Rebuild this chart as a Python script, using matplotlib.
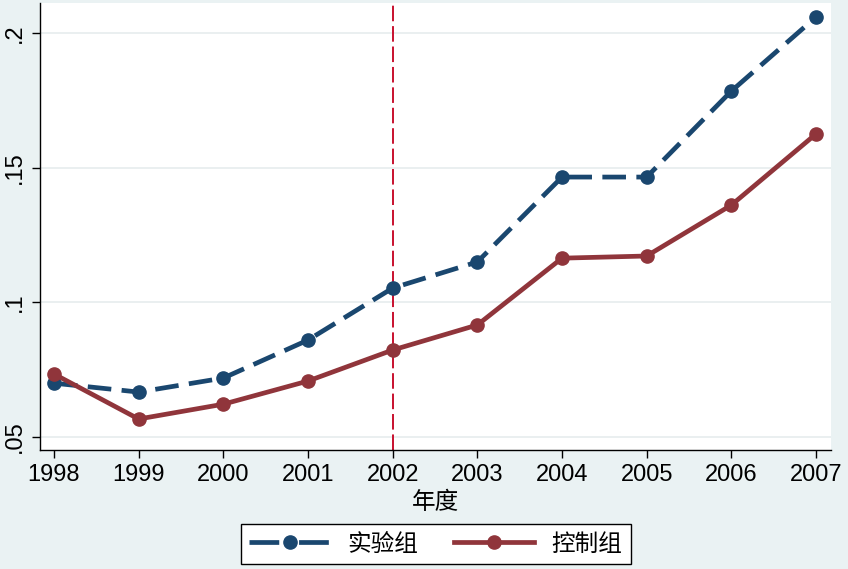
import matplotlib
matplotlib.use("Agg")
import matplotlib.pyplot as plt
from matplotlib.lines import Line2D

years = [1998, 1999, 2000, 2001, 2002, 2003, 2004, 2005, 2006, 2007]
treat = [0.0700, 0.0667, 0.0719, 0.0860, 0.1053, 0.1150, 0.1465, 0.1465, 0.1784, 0.2059]
control = [0.0734, 0.0567, 0.0622, 0.0708, 0.0823, 0.0916, 0.1164, 0.1172, 0.1361, 0.1625]
yticks = [0.05, 0.10, 0.15, 0.20]
ytick_labels = [".05", ".1", ".15", ".2"]
event_year = 2002

plt.rcParams["font.family"] = ["Liberation Sans", "Noto Sans CJK SC", "DejaVu Sans"]

bg = "#eaf2f3"
navy = "#1a476f"
maroon = "#90353b"
lw = 3.4
ms = 9.5

fig = plt.figure(figsize=(8.48, 5.69), dpi=100, facecolor=bg)
ax = fig.add_axes([40 / 848, 119 / 569, 791 / 848, 447 / 569])
ax.set_facecolor("white")

ax.plot(years, treat, color=navy, lw=lw, dashes=(5, 2.2), marker="o", ms=ms, zorder=3)
ax.plot(years, control, color=maroon, lw=lw, marker="o", ms=ms, zorder=3)
ax.axvline(event_year, color="#c8102e", lw=1.4, dashes=(8, 2.5), zorder=2)

ax.set_xlim(1997.835, 2007.177)
ax.set_ylim(0.0452, 0.2111)
ax.set_xticks(years)
ax.set_xticklabels([str(y) for y in years], fontsize=17)
ax.set_yticks(yticks)
ax.set_yticklabels(ytick_labels, fontsize=17, rotation=90, va="center")
ax.tick_params(axis="both", length=6, width=1, color="black", pad=4)
ax.grid(axis="y", color="#e6ecee", lw=1.2)
ax.set_axisbelow(True)
for side in ["top", "right"]:
    ax.spines[side].set_visible(False)
for side in ["left", "bottom"]:
    ax.spines[side].set_color("black")
    ax.spines[side].set_linewidth(1)

ax.set_xlabel("年度", fontsize=17, family=["Noto Sans CJK SC"], labelpad=4)

handles = [
    Line2D([], [], color=navy, lw=lw, dashes=(6.3, 4.2), marker="o", ms=ms),
    Line2D([], [], color=maroon, lw=lw, marker="o", ms=ms),
]
leg = fig.legend(handles, ["实验组", "控制组"], loc="center",
                 bbox_to_anchor=(436 / 848, 1 - 544 / 569), ncol=2,
                 prop={"family": "Noto Sans CJK SC", "size": 17},
                 handlelength=3.4, handletextpad=0.75, columnspacing=1.5,
                 fancybox=False, edgecolor="black", framealpha=1, borderpad=0.35)
leg.get_frame().set_linewidth(1)

fig.savefig("out.png", dpi=100, facecolor=bg)
